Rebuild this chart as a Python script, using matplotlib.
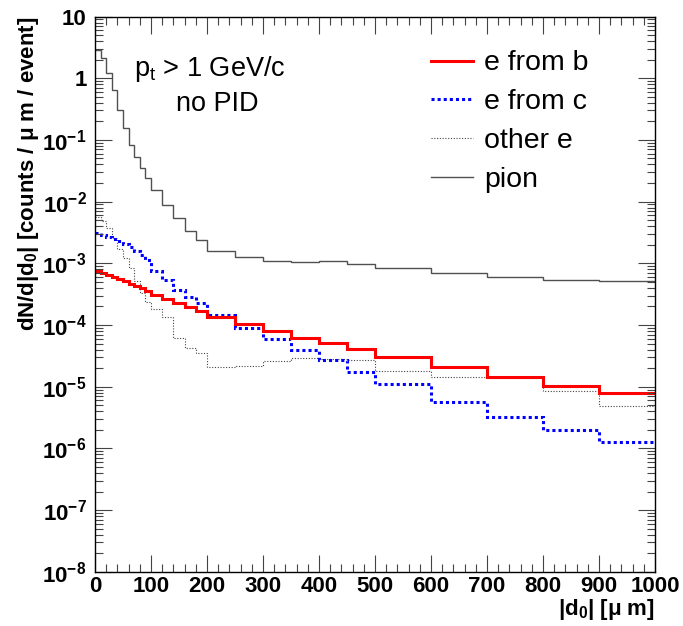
import numpy as np
import matplotlib
matplotlib.use("Agg")
import matplotlib.pyplot as plt
from matplotlib.ticker import FuncFormatter, LogLocator, MultipleLocator

plt.rcParams["font.family"] = ["Liberation Sans", "DejaVu Sans"]
plt.rcParams["mathtext.fontset"] = "custom"
plt.rcParams["mathtext.rm"] = "Liberation Sans"
plt.rcParams["mathtext.it"] = "Liberation Sans:italic"
plt.rcParams["mathtext.bf"] = "Liberation Sans:bold"

# bin edges of |d0| (um): 10 um up to 100, 20 um up to 200, 50 um up to 500, 100 um up to 1000
edges = [0, 10, 20, 30, 40, 50, 60, 70, 80, 90, 100,
         120, 140, 160, 180, 200,
         250, 300, 350, 400, 450, 500,
         600, 700, 800, 900, 1000]

e_from_b = [7.5e-4, 7.05e-4, 6.53e-4, 6.07e-4, 5.57e-4, 5.11e-4, 4.62e-4, 4.29e-4, 3.94e-4, 3.60e-4,
            3.06e-4, 2.61e-4, 2.25e-4, 1.94e-4, 1.69e-4,
            1.36e-4, 1.02e-4, 7.9e-5, 6.15e-5, 5.16e-5, 4.04e-5,
            2.99e-5, 2.06e-5, 1.42e-5, 1.03e-5, 7.8e-6]
e_from_c = [3.06e-3, 2.91e-3, 2.70e-3, 2.48e-3, 2.27e-3, 2.06e-3, 1.82e-3, 1.60e-3, 1.36e-3, 1.13e-3,
            7.5e-4, 5.36e-4, 3.69e-4, 2.88e-4, 2.25e-4,
            1.45e-4, 9.1e-5, 6.0e-5, 3.94e-5, 2.66e-5, 1.75e-5,
            1.09e-5, 5.7e-6, 3.27e-6, 1.99e-6, 1.29e-6]
other_e = [5.6e-3, 4.85e-3, 3.73e-3, 2.57e-3, 1.7e-3, 1.22e-3, 8.4e-4, 5.2e-4, 3.3e-4, 2.39e-4,
           1.80e-4, 1.36e-4, 6.1e-5, 4.2e-5, 3.5e-5,
           2.1e-5, 2.15e-5, 2.63e-5, 2.9e-5, 2.8e-5, 2.7e-5,
           1.8e-5, 1.42e-5, 1.4e-5, 8.5e-6, 4.9e-6]
pion = [2.9, 2.1, 1.23, 0.64, 0.31, 0.154, 0.083, 0.053, 0.035, 0.024,
        0.0154, 0.0088, 0.0054, 0.0034, 0.0024,
        0.0016, 0.00127, 0.00109, 0.00105, 0.00108, 0.00096,
        0.00084, 0.000705, 0.000607, 0.00053, 0.00051]

fig = plt.figure(figsize=(6.83, 6.26), dpi=100)
ax = fig.add_axes([0.139, 0.0866, 0.82, 0.887])

ax.stairs(pion, edges, color="#505050", lw=1.0, label="pion", baseline=None)
ax.stairs(other_e, edges, color="#444444", lw=0.8, ls=(0, (1, 1.5)), label="other e", baseline=None)
ax.stairs(e_from_c, edges, color="#0000ff", lw=2.2, ls=(0, (1, 1)), label="e from c", baseline=None)
ax.stairs(e_from_b, edges, color="#ff0000", lw=2.2, label="e from b", baseline=None)

ax.set_yscale("log")
ax.set_xlim(0, 1000)
ax.set_ylim(1e-8, 10)
ax.xaxis.set_major_locator(MultipleLocator(100))
ax.xaxis.set_minor_locator(MultipleLocator(20))
ax.yaxis.set_major_locator(LogLocator(base=10, numticks=20))
ax.yaxis.set_minor_locator(LogLocator(base=10, subs=np.arange(2, 10), numticks=20))


def yfmt(v, pos):
    e = int(round(np.log10(v)))
    if e == 1:
        return "10"
    if e == 0:
        return "1"
    return r"10$^{\mathbf{%d}}$" % e


ax.yaxis.set_major_formatter(FuncFormatter(yfmt))
ax.tick_params(which="both", direction="in", top=True, right=True, width=0.8, color="#444444")
ax.tick_params(which="major", length=12)
ax.tick_params(which="minor", length=6)
ax.tick_params(axis="y", labelsize=16, pad=6)
ax.tick_params(axis="x", labelsize=16, pad=3)
for lab in ax.get_xticklabels() + ax.get_yticklabels():
    lab.set_fontweight("bold")
for sp in ax.spines.values():
    sp.set_linewidth(1.0)

ax.set_xlabel(r"|d$_\mathbf{0}$| [" + "\u03bc m]", fontsize=16, fontweight="bold",
              loc="right", labelpad=0)
ax.set_ylabel(r"dN/d|d$_\mathbf{0}$| [counts / " + "\u03bc m / event]", fontsize=16,
              fontweight="bold", loc="top", labelpad=1)

ax.text(0.07, 0.893, r"p$_\mathrm{t}$ > 1 GeV/c", transform=ax.transAxes, fontsize=19.5)
ax.text(0.145, 0.83, "no PID", transform=ax.transAxes, fontsize=19.5)

h, l = ax.get_legend_handles_labels()
order = [3, 2, 1, 0]
ax.legend([h[i] for i in order], [l[i] for i in order], loc="upper left",
          bbox_to_anchor=(0.555, 0.985), frameon=False, fontsize=20.5, handlelength=1.45,
          handletextpad=0.4, labelspacing=0.45)

fig.savefig("out.png", dpi=100)
